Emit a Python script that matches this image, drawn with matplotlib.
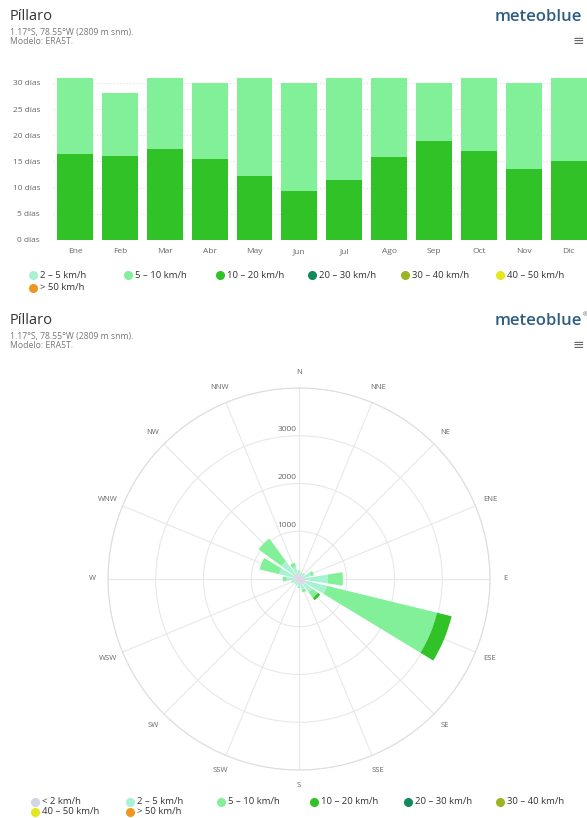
import numpy as np
import matplotlib.pyplot as plt
from matplotlib.lines import Line2D

plt.rcParams['font.family'] = ['Open Sans', 'DejaVu Sans']

W, H = 587, 818

# monthly wind days (stacked bars)
months = ['Ene', 'Feb', 'Mar', 'Abr', 'May', 'Jun', 'Jul', 'Ago', 'Sep', 'Oct', 'Nov', 'Dic']
days_10_20 = [16.5, 16.1, 17.3, 15.5, 12.2, 9.3, 11.5, 15.9, 18.9, 16.9, 13.5, 15.1]
days_5_10 = [14.5, 11.9, 13.7, 14.5, 18.8, 20.7, 19.5, 15.1, 11.1, 14.1, 16.5, 15.9]
day_ticks = [0, 5, 10, 15, 20, 25, 30]

# wind rose (hours per direction and speed class)
directions = ['N', 'NNE', 'NE', 'ENE', 'E', 'ESE', 'SE', 'SSE',
              'S', 'SSW', 'SW', 'WSW', 'W', 'WNW', 'NW', 'NNW']
rose_lt2 = [100, 90, 90, 110, 150, 160, 140, 110, 100, 90, 80, 90, 110, 130, 140, 120]
rose_2_5 = [60, 40, 50, 150, 450, 440, 200, 120, 70, 40, 30, 50, 150, 300, 320, 150]
rose_5_10 = [20, 10, 10, 60, 320, 2375, 150, 60, 20, 10, 10, 20, 80, 420, 590, 80]
rose_10_20 = [0, 0, 0, 0, 0, 315, 60, 0, 0, 0, 0, 0, 0, 0, 0, 0]
rose_rings = [1000, 2000, 3000, 4000]

speed_labels = ['< 2 km/h', '2 – 5 km/h', '5 – 10 km/h', '10 – 20 km/h',
                '20 – 30 km/h', '30 – 40 km/h', '40 – 50 km/h', '> 50 km/h']
speed_colors = ['#d4d4e6', '#a6f2d2', '#82f098', '#30c226',
                '#108a5a', '#9ab522', '#e6e61e', '#f0961e']


def fx(x):
    return x / W


def fy(y):
    return 1 - y / H


fig = plt.figure(figsize=(W / 100, H / 100), dpi=100)


def header(y0, reg=False):
    fig.text(fx(10), fy(y0), 'Píllaro', size=10.5, color='#333333', va='center')
    fig.text(fx(10), fy(y0 + 15), '1.17°S, 78.55°W (2809 m snm).', size=6.2, color='#777777', va='center')
    fig.text(fx(10), fy(y0 + 24), 'Modelo: ERA5T.', size=6.2, color='#777777', va='center')
    fig.text(fx(582), fy(y0), 'meteoblue', size=12, color='#2f5f80', ha='right', va='center',
             weight='semibold')
    if reg:
        fig.text(fx(583), fy(y0 - 6), '®', size=4.5, color='#2f5f80', ha='left', va='center')
    fig.text(fx(584), fy(y0 + 24), '≡', size=10, color='#666666', ha='right', va='center')


def legend(items, rows):
    for (lab, col), (x, y) in zip(items, rows):
        fig.add_artist(Line2D([fx(x)], [fy(y)], marker='o', ms=5.5, color=col,
                              linestyle='none', transform=fig.transFigure))
        fig.text(fx(x + 7), fy(y), lab, size=6.8, color='#333333', va='center')


# ---- top chart: stacked bars
header(17)
ax1 = fig.add_axes([fx(52.6), fy(240), fx(587 - 52.6), 165 / H])
x = np.arange(len(months))
ax1.bar(x, days_10_20, width=0.8, color=speed_colors[3], zorder=2)
ax1.bar(x, days_5_10, width=0.8, bottom=days_10_20, color=speed_colors[2], zorder=2)
ax1.set_xlim(-0.5, 11.41)
ax1.set_ylim(0, 31.5)
ax1.set_yticks(day_ticks)
ax1.set_yticklabels([f'{d} días' for d in day_ticks], size=6, color='#666666')
ax1.set_xticks(x)
ax1.set_xticklabels(months, size=6, color='#666666')
ax1.tick_params(length=0)
ax1.tick_params(axis='y', pad=9)
ax1.tick_params(axis='x', pad=6)
ax1.grid(axis='y', color='#dddddd', linestyle=(0, (1, 2)), linewidth=0.8, zorder=0)
for s in ax1.spines.values():
    s.set_visible(False)

legend(list(zip(speed_labels[1:], speed_colors[1:])),
       [(33, 275), (128, 275), (220, 275), (312, 275), (405, 275), (500, 275), (33, 288)])

# ---- bottom chart: wind rose
header(321, reg=True)
ax2 = fig.add_axes([fx(108), fy(770), 382 / W, 382 / H], projection='polar')
ax2.set_theta_zero_location('N')
ax2.set_theta_direction(-1)
theta = np.deg2rad(np.arange(16) * 22.5)
width = np.deg2rad(22.5 * 0.78)
bottom = np.zeros(16)
for vals, col in zip([rose_lt2, rose_2_5, rose_5_10, rose_10_20], speed_colors[:4]):
    ax2.bar(theta, vals, width=width, bottom=bottom, color=col, zorder=2, linewidth=0)
    bottom += np.array(vals)
ax2.set_ylim(0, 4000)
ax2.set_yticks(rose_rings)
ax2.set_yticklabels([])
ax2.set_xticks(theta)
ax2.set_xticklabels([])
ax2.grid(color='#e8e8e8', linewidth=0.8, zorder=0)
ax2.spines['polar'].set_color('#dddddd')
ax2.spines['polar'].set_linewidth(0.8)
for t, name in zip(theta, directions):
    ax2.text(t, 4330, name, size=5.5, color='#666666', ha='center', va='center')
for r in rose_rings[:-1]:
    ax2.annotate(str(r), xy=(0, r), xytext=(-12, 6), textcoords='offset pixels',
                 size=6, color='#666666', ha='center', va='center')

legend(list(zip(speed_labels, speed_colors)),
       [(35, 802), (130, 802), (221, 802), (314, 802), (408, 802), (500, 802),
        (35, 812), (130, 812)])

fig.savefig('out.png', dpi=100, facecolor='white')
